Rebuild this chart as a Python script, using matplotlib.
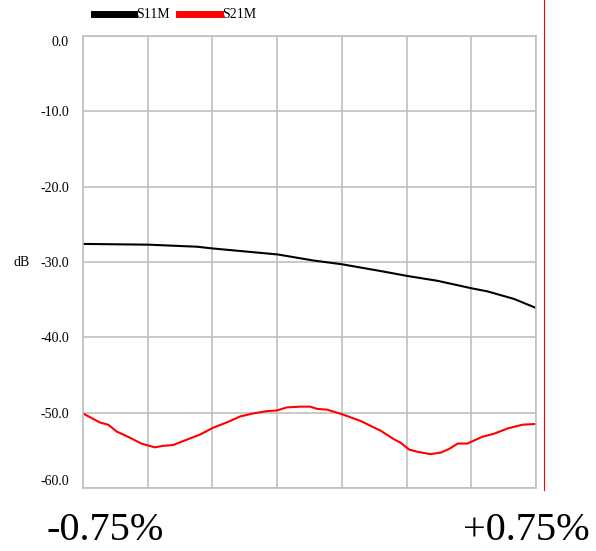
import matplotlib.pyplot as plt
from matplotlib.lines import Line2D

# S11M (black), x in grid units 0..7
s11_x = [0, 1.01, 1.76, 2.0, 3.01, 3.56, 4.0, 4.60, 5.01, 5.48, 6.01, 6.25, 6.66, 7.0]
s11_db = [-27.6, -27.7, -27.97, -28.2, -29.0, -29.8, -30.3, -31.2, -31.85, -32.5,
          -33.5, -33.9, -34.9, -36.1]

# S21M (red)
s21_x = [0, 0.26, 0.39, 0.52, 0.72, 0.90, 1.11, 1.24, 1.39, 1.60, 1.81, 2.01, 2.22,
         2.43, 2.63, 2.84, 3.00, 3.15, 3.36, 3.51, 3.62, 3.77, 4.00, 4.29, 4.60, 4.80,
         4.91, 5.04, 5.17, 5.37, 5.53, 5.66, 5.79, 5.94, 6.17, 6.35, 6.56, 6.79, 7.0]
s21_db = [-50.1, -51.3, -51.6, -52.5, -53.3, -54.1, -54.6, -54.4, -54.3, -53.6, -52.9,
          -52.0, -51.3, -50.5, -50.1, -49.8, -49.7, -49.3, -49.2, -49.2, -49.5, -49.6,
          -50.2, -51.1, -52.4, -53.5, -54.0, -54.9, -55.2, -55.5, -55.3, -54.8, -54.1,
          -54.1, -53.2, -52.8, -52.1, -51.6, -51.5]

y_ticks = [0, -10, -20, -30, -40, -50, -60]

plt.rcParams['font.family'] = ['Liberation Serif', 'DejaVu Serif']

fig = plt.figure(figsize=(5.96, 5.51), dpi=100)
ax = fig.add_axes([83 / 596, 1 - 488 / 551, 453 / 596, 452 / 551])

ax.plot(s11_x, s11_db, color="black", lw=1.5)
ax.plot(s21_x, s21_db, color="red", lw=1.5)

ax.set_xlim(0, 7)
ax.set_ylim(-60, 0)
ax.set_xticks(range(8))
ax.set_xticklabels([])
ax.set_yticks(y_ticks)
ax.set_yticklabels([f"{v:.1f}" for v in y_ticks], fontsize=10)
ax.tick_params(length=0, pad=10)
ax.grid(True, color="#c0c0c0", lw=1.2)
for s in ax.spines.values():
    s.set_color("#c0c0c0")
    s.set_linewidth(1.2)

# first/last tick labels sit inside the plot box
labels = ax.get_yticklabels()
labels[0].set_va("top")
labels[-1].set_va("bottom")

fig.text(22 / 596, 1 - 262 / 551, "dB", fontsize=10, ha="center", va="center")

# legend
handles = [Line2D([], [], color="black", lw=5), Line2D([], [], color="red", lw=5)]
fig.legend(handles, ["S11M", "S21M"], loc="center left",
           bbox_to_anchor=(88 / 596, 1 - 15 / 551), ncol=2, frameon=False,
           fontsize=10, handlelength=2.9, handletextpad=0.15, columnspacing=0.7,
           borderaxespad=0)

# red marker line at right
fig.add_artist(Line2D([544 / 596, 544 / 596], [1 - 490 / 551, 1], color="red", lw=0.8))

fig.text(47 / 596, 1 - 530 / 551, "-0.75%", fontsize=29, ha="left", va="center")
fig.text(590 / 596, 1 - 530 / 551, "+0.75%", fontsize=29, ha="right", va="center")

fig.savefig("out.png", dpi=100)
